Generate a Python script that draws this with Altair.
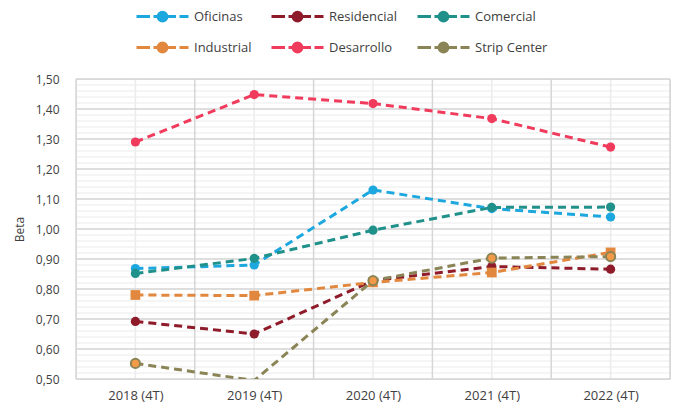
import altair as alt
import pandas as pd

years = [2018, 2019, 2020, 2021, 2022]
series_names = ["Oficinas", "Residencial", "Comercial", "Industrial", "Desarrollo", "Strip Center"]
oficinas = [0.868, 0.880, 1.130, 1.068, 1.040]
residencial = [0.692, 0.650, 0.828, 0.875, 0.866]
comercial = [0.852, 0.902, 0.996, 1.072, 1.073]
industrial = [0.780, 0.778, 0.822, 0.855, 0.922]
desarrollo = [1.290, 1.448, 1.418, 1.368, 1.273]
strip_center = [0.552, 0.495, 0.828, 0.903, 0.908]
series_values = [oficinas, residencial, comercial, industrial, desarrollo, strip_center]
colors = ["#1CA7DF", "#8F1B2A", "#20918A", "#E2883E", "#F03B5C", "#8A8456"]
strip_fill = "#F39A48"

major_y = [0.5, 0.6, 0.7, 0.8, 0.9, 1.0, 1.1, 1.2, 1.3, 1.4, 1.5]
minor_y = [round(0.5 + 0.02 * i, 2) for i in range(51)]
bounds_x = [2017.5, 2018.5, 2019.5, 2020.5, 2021.5, 2022.5]

rows = []
for name, vals in zip(series_names, series_values):
    for yr, v in zip(years, vals):
        rows.append({"serie": name, "year": yr, "beta": v})
df = pd.DataFrame(rows)

FONT = "Open Sans"
xscale = alt.Scale(domain=[2017.5, 2022.5], nice=False)
yscale = alt.Scale(domain=[0.5, 1.5], nice=False, zero=False)
xaxis = alt.Axis(
    values=years, labelExpr="datum.value + ' (4T)'", title=None, ticks=False,
    domain=False, grid=False, labelFont=FONT,
    labelFontSize=13, labelColor="#404040", labelPadding=10)
yaxis = alt.Axis(
    values=major_y, labelExpr="replace(format(datum.value, '.2f'), '.', ',')",
    ticks=False, domain=False, grid=False, title="Beta", titleFont=FONT, titleFontSize=12,
    titleFontWeight="normal", titleColor="#404040", titlePadding=9,
    labelFont=FONT, labelFontSize=12, labelColor="#404040", labelPadding=17)

legend_symbol = ("M-1,0H0.35M0.7,0H2.95M3.3,0H4.2"
                 "M1.16,0A0.44,0.44 0 1,0 2.04,0A0.44,0.44 0 1,0 1.16,0Z")

color = alt.Color(
    "serie:N",
    scale=alt.Scale(domain=series_names, range=colors),
    legend=alt.Legend(
        title=None, orient="none", legendX=59, legendY=-74, columns=3,
        direction="horizontal", columnPadding=13, rowPadding=9,
        symbolType=legend_symbol,
        symbolSize=400, symbolStrokeWidth=3, labelFontSize=13, labelColor="#404040",
        labelFont=FONT, labelOffset=36,
    ),
)

# grid layers
g_minor = alt.Chart(pd.DataFrame({"v": minor_y})).mark_rule(
    color="#EBEBEB", strokeWidth=1).encode(y=alt.Y("v:Q", scale=yscale, axis=yaxis))
g_center = alt.Chart(pd.DataFrame({"v": years})).mark_rule(
    color="#ECECEC", strokeWidth=1.5).encode(x=alt.X("v:Q", scale=xscale, axis=xaxis))
g_bounds = alt.Chart(pd.DataFrame({"v": bounds_x})).mark_rule(
    color="#D6D6D6", strokeWidth=1.5).encode(x=alt.X("v:Q", scale=xscale, axis=xaxis))
g_major = alt.Chart(pd.DataFrame({"v": major_y})).mark_rule(
    color="#D6D6D6", strokeWidth=1.5).encode(y=alt.Y("v:Q", scale=yscale, axis=yaxis))

base = alt.Chart(df)

lines = base.mark_line(strokeWidth=3, strokeDash=[8, 5], clip=True).encode(
    x=alt.X("year:Q", scale=xscale, axis=xaxis),
    y=alt.Y("beta:Q", scale=yscale, axis=yaxis),
    color=color,
)

circles = base.transform_filter(
    "datum.serie != 'Industrial' && datum.beta >= 0.5"
).mark_point(filled=True, size=85, opacity=1, shape="circle").encode(
    x=alt.X("year:Q", scale=xscale, axis=xaxis),
    y=alt.Y("beta:Q", scale=yscale, axis=yaxis),
    color=color,
)

squares = base.transform_filter("datum.serie == 'Industrial'").mark_point(
    filled=True, size=95, opacity=1, shape="square"
).encode(
    x=alt.X("year:Q", scale=xscale, axis=xaxis),
    y=alt.Y("beta:Q", scale=yscale, axis=yaxis),
    color=color,
)

strip = base.transform_filter(
    "datum.serie == 'Strip Center' && datum.beta >= 0.5"
).mark_point(filled=True, size=85, opacity=1, shape="circle", fill=strip_fill,
             stroke=colors[5], strokeWidth=2).encode(
    x=alt.X("year:Q", scale=xscale, axis=xaxis),
    y=alt.Y("beta:Q", scale=yscale, axis=yaxis),
)

chart = alt.layer(g_minor, g_center, g_bounds, g_major, lines, circles, squares, strip).properties(
    width=594, height=300, padding={"left": 68, "top": 71, "right": 1, "bottom": 23},
    autosize=alt.AutoSizeParams(type="none"),
).configure_view(stroke="#D3D3D3", strokeWidth=1.5).configure(background="white")

chart.save("out.html", embed_options={"renderer": "svg", "actions": False})
